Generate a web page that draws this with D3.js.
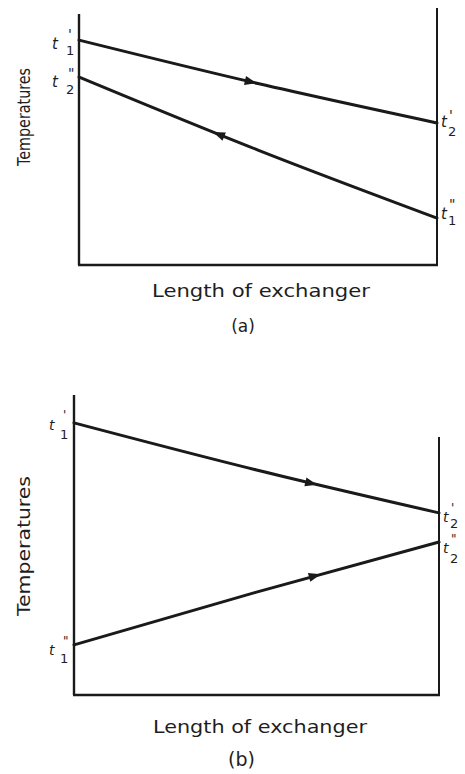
<!DOCTYPE html>
<html lang="en">
<head>
<meta charset="utf-8">
<title>Temperature profiles along an exchanger</title>
<script src="https://d3js.org/d3.v7.min.js"></script>
<style>
	body { margin: 0; background: #fff; }
	text { font-family: "DejaVu Sans", sans-serif; fill: #1e1e1e; }
</style>
</head>
<body>
<script>
// window size
var w = 465
var h = 774

// position along the exchanger, 0 = left end, 1 = right end
var lengthPos = [0, 0.5, 1]

// (a) counter flow, temperatures on a 0-100 scale
var hotA = [89.6, 72.3, 56.6]      // t1' -> t2'
var coldA = [74.9, 45.8, 18.7]     // t2'' <- t1''

// (b) parallel flow
var hotB = [90.7, 75.0, 60.7]      // t1' -> t2'
var coldB = [16.7, 34.3, 51.0]     // t1'' -> t2''

// where the flow arrows sit (fraction of length) and which way they point
var arrowPosA = [0.48, 0.39]
var arrowDirA = [1, -1]
var arrowPosB = [0.65, 0.66]
var arrowDirB = [1, 1]

// end labels: [prime, subscript] for start and end of each line
var endLabelsA = [[["'", "1"], ["'", "2"]], [['"', "2"], ['"', "1"]]]
var endLabelsB = [[["'", "1"], ["'", "2"]], [['"', "1"], ['"', "2"]]]

var panelNames = ["(a)", "(b)"]
var xTitle = "Length of exchanger"
var yTitle = "Temperatures"

// layout of the two panels
var panels = [
	{ series: [hotA, coldA], arrowPos: arrowPosA, arrowDir: arrowDirA, labels: endLabelsA, name: panelNames[0],
	  left: 79, right: 437, top: 14, rightTop: 8, bottom: 265,
	  yTitleC: 117, yTitleLen: 98, xTitleC: 261, xTitleY: 297, xTitleLen: 218, nameY: 332, nameSize: 17,
	  // label offsets [tBase, primeBase, subBase] for start / end labels of each line
	  lab: [[[9, -1, 15], [4, -3, 13]], [[10, 1, 17], [1, -9, 7]]],
	  lx: { t: -27, p: -11, s: -13, rt: 4, rp: 12, rs: 11 }, tSize: 15, sSize: 13, pSize: 14 },
	{ series: [hotB, coldB], arrowPos: arrowPosB, arrowDir: arrowDirB, labels: endLabelsB, name: panelNames[1],
	  left: 74, right: 439, top: 395, rightTop: 437, bottom: 695,
	  yTitleC: 546, yTitleLen: 140, xTitleC: 260, xTitleY: 733, xTitleLen: 214, nameY: 766, nameSize: 19,
	  lab: [[[7, -4, 16], [9, -1, 15]], [[10, 0, 18], [11, 1, 21]]],
	  lx: { t: -25, p: -11, s: -14, rt: 4, rp: 12, rs: 11 }, tSize: 14, sSize: 13, pSize: 12 }
]

var svg = d3.select("body")
			.append("svg")
			.attr("width", w)
			.attr("height", h)

var ink = "#1a1a1a"

panels.forEach(function(p) {
	var g = svg.append("g")

	var xScale = d3.scaleLinear()
					.domain([0, 1])
					.range([p.left, p.right])
	var yScale = d3.scaleLinear()
					.domain([0, 100])
					.range([p.bottom, p.top])

	// frame: left axis, bottom axis, right axis
	g.append("line")
		.attr("x1", p.left).attr("x2", p.left)
		.attr("y1", p.top).attr("y2", p.bottom)
		.attr("stroke", ink).attr("stroke-width", 2.4)
	g.append("line")
		.attr("x1", p.left - 1).attr("x2", p.right + 1)
		.attr("y1", p.bottom).attr("y2", p.bottom)
		.attr("stroke", ink).attr("stroke-width", 2.4)
	g.append("line")
		.attr("x1", p.right).attr("x2", p.right)
		.attr("y1", p.rightTop).attr("y2", p.bottom)
		.attr("stroke", ink).attr("stroke-width", 2)

	var line = d3.line()
				.x(function(d, i) { return xScale(lengthPos[i]) })
				.y(function(d) { return yScale(d) })
				.curve(d3.curveNatural)

	p.series.forEach(function(vals, si) {
		var path = g.append("path")
					.datum(vals)
					.attr("d", line)
					.attr("fill", "none")
					.attr("stroke", ink)
					.attr("stroke-width", 3)
					.attr("stroke-linecap", "round")

		// arrow on the line
		var node = path.node()
		var L = node.getTotalLength()
		var target = xScale(p.arrowPos[si])
		var lo = 0, hi = L
		for (var k = 0; k < 30; k++) {
			var mid = (lo + hi) / 2
			if (node.getPointAtLength(mid).x < target) lo = mid
			else hi = mid
		}
		var a = node.getPointAtLength(Math.max(0, lo - 2))
		var b = node.getPointAtLength(Math.min(L, lo + 2))
		var c = node.getPointAtLength(lo)
		var ang = Math.atan2(b.y - a.y, b.x - a.x) * 180 / Math.PI + (p.arrowDir[si] < 0 ? 180 : 0)
		g.append("path")
			.attr("d", "M-6,-4.5 L6,0 L-6,4.5 Z")
			.attr("fill", ink)
			.attr("transform", "translate(" + c.x + "," + c.y + ") rotate(" + ang + ")")

		// end labels: one text each, prime and subscript as tspans
		;[0, vals.length - 1].forEach(function(idx, end) {
			var y0 = yScale(vals[idx])
			var off = p.lab[si][end]
			var parts = p.labels[si][end]
			var ax = end === 0 ? p.left : p.right
			var lbl = g.append("text")
			lbl.append("tspan")
				.attr("x", ax + (end === 0 ? p.lx.t : p.lx.rt))
				.attr("y", y0 + off[0])
				.attr("font-size", p.tSize)
				.attr("font-style", "italic")
				.text("t")
			lbl.append("tspan")
				.attr("x", ax + (end === 0 ? p.lx.p : p.lx.rp))
				.attr("y", y0 + off[1])
				.attr("font-size", p.pSize)
				.text(parts[0])
			lbl.append("tspan")
				.attr("x", ax + (end === 0 ? p.lx.s : p.lx.rs))
				.attr("y", y0 + off[2])
				.attr("font-size", p.sSize)
				.text(parts[1])
		})
	})

	// axis titles
	g.append("text")
		.attr("transform", "translate(30," + p.yTitleC + ") rotate(-90)")
		.attr("text-anchor", "middle")
		.attr("font-size", 18)
		.attr("textLength", p.yTitleLen)
		.attr("lengthAdjust", "spacingAndGlyphs")
		.text(yTitle)

	g.append("text")
		.attr("x", p.xTitleC)
		.attr("y", p.xTitleY)
		.attr("text-anchor", "middle")
		.attr("font-size", 18)
		.attr("textLength", p.xTitleLen)
		.attr("lengthAdjust", "spacingAndGlyphs")
		.text(xTitle)

	g.append("text")
		.attr("x", (p.left + p.right) / 2 - 15)
		.attr("y", p.nameY)
		.attr("text-anchor", "middle")
		.attr("font-size", p.nameSize)
		.text(p.name)
})
</script>
</body>
</html>
